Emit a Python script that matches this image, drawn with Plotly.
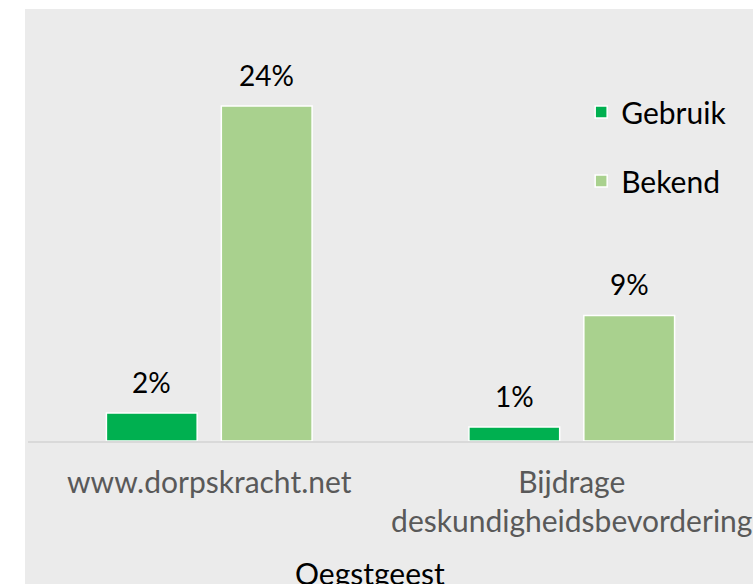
import plotly.graph_objects as go

categories = ["www.dorpskracht.net", "Bijdrage<br>deskundigheidsbevordering"]
gebruik = [2, 1]
bekend = [24, 9]
series_names = ["Gebruik", "Bekend"]
colors = ["#00b050", "#a9d18e"]
axis_title = "Oegstgeest"

FONT = "Lato"
BARGAP = 0.366
fig = go.Figure()
series = [gebruik, bekend]
for name, vals, col in zip(series_names, series, colors):
    fig.add_trace(go.Bar(
        x=categories, y=vals, name=name, legendgroup=name,
        marker=dict(color=col, line=dict(color="white", width=1.5)),
        cliponaxis=False,
    ))

# value labels above each bar (offset to the centre of each grouped bar)
half_slot = (1 - BARGAP) / 4
for s, vals in enumerate(series):
    for i, v in enumerate(vals):
        fig.add_annotation(x=i + (2 * s - 1) * half_slot, y=v, xref="x", yref="y",
                           text=f"{v}%", showarrow=False, yanchor="bottom",
                           yshift=12,
                           font=dict(family=FONT, size=28, color="black"))

fig.add_annotation(text=axis_title, xref="paper", yref="paper",
                   x=(370 - 28) / 725, y=-(573 - 441) / 432,
                   xanchor="center", yanchor="middle", showarrow=False,
                   font=dict(family=FONT, size=30, color="black"))

fig.update_layout(
    width=753, height=584,
    margin=dict(l=28, r=0, t=9, b=143),
    paper_bgcolor="white", plot_bgcolor="rgba(0,0,0,0)",
    barmode="group", bargap=BARGAP, bargroupgap=0.21,
    showlegend=True,
    legend=dict(x=0.763, y=0.822, xanchor="left", yanchor="top",
                font=dict(family=FONT, size=30, color="black"),
                bgcolor="rgba(0,0,0,0)", tracegroupgap=27,
                traceorder="grouped"),
    font=dict(family=FONT),
    shapes=[dict(type="rect", xref="paper", yref="paper",
                 x0=-3 / 725, x1=1.01, y0=-(584 - 441) / 432 - 0.01, y1=1.0,
                 fillcolor="#ebebeb", line=dict(width=0), layer="below")],
)
fig.update_xaxes(showgrid=False, showline=True, linecolor="#d9d9d9", linewidth=2,
                 ticks="", ticklabelstandoff=14,
                 tickfont=dict(family=FONT, size=30, color="#595959"))
fig.update_yaxes(range=[0, 30.95], visible=False, showgrid=False, zeroline=False)

fig.write_html("out.html", config={"displayModeBar": False},
               post_script="document.body.style.margin='0';")
